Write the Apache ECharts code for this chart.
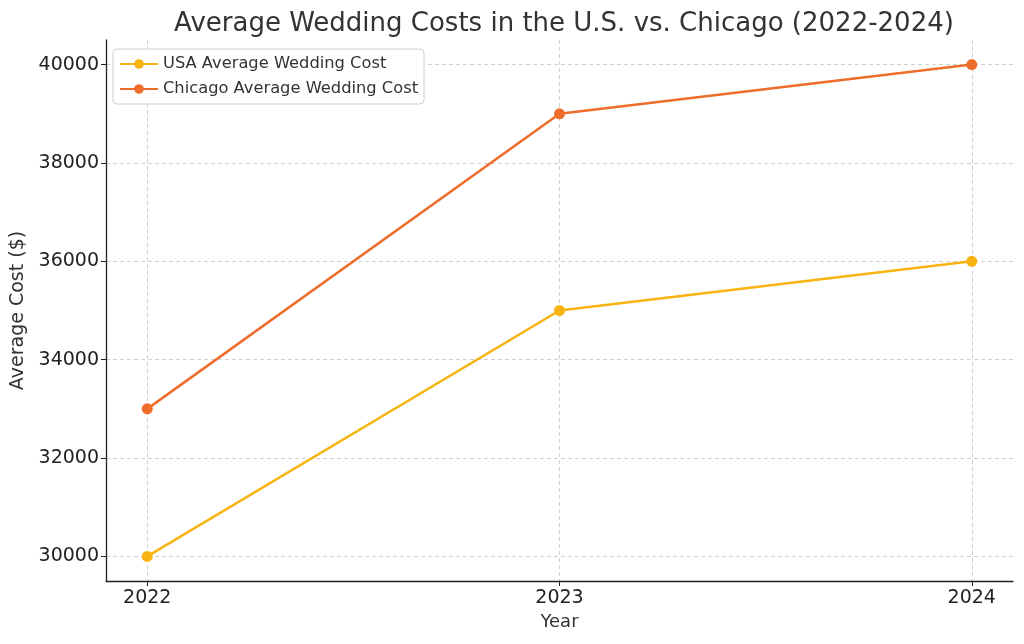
<!DOCTYPE html>
<html>
<head>
<meta charset="utf-8">
<script src="https://cdn.jsdelivr.net/npm/echarts@6/dist/echarts.min.js"></script>
<style>
  html, body { margin: 0; padding: 0; background: #fff; }
  #chart { width: 1024px; height: 644px; }
</style>
</head>
<body>
<div id="chart"></div>
<script>
// data
const years = [2022, 2023, 2024]
const usaCost = [30000, 35000, 36000]
const chicagoCost = [33000, 39000, 40000]
const seriesNames = ['USA Average Wedding Cost', 'Chicago Average Wedding Cost']

const font = 'DejaVu Sans'
const chart = echarts.init(document.getElementById('chart'))

const pairs = (vals) => years.map((y, i) => [y, vals[i]])

let option = {
  backgroundColor: '#fff',
  animation: false,
  textStyle: { fontFamily: font },
  title: {
    text: 'Average Wedding Costs in the U.S. vs. Chicago (2022-2024)',
    left: 559,
    textAlign: 'center',
    top: 6,
    textStyle: { fontFamily: font, fontSize: 26, fontWeight: 'normal', color: '#333' },
  },
  legend: {
    left: 113,
    top: 49,
    orient: 'vertical',
    itemWidth: 38,
    itemHeight: 12,
    itemGap: 9,
    padding: [7, 6, 7, 6],
    backgroundColor: '#fff',
    borderColor: '#d0d0d0',
    borderWidth: 1,
    borderRadius: 4,
    textStyle: { fontFamily: font, fontSize: 16.3, color: '#333' },
    data: seriesNames,
  },
  grid: { left: 106, right: 11, top: 40, bottom: 63, containLabel: false },
  xAxis: {
    type: 'value',
    min: 2021.9,
    max: 2024.1,
    splitNumber: 2,
    name: 'Year',
    nameLocation: 'middle',
    nameGap: 30,
    nameTextStyle: { fontFamily: font, fontSize: 18, color: '#333' },
    axisLine: { onZero: false, lineStyle: { color: '#222', width: 1.3 } },
    axisTick: { length: 5, lineStyle: { color: '#222' } },
    axisLabel: {
      fontFamily: font, fontSize: 19, color: '#222', margin: 8,
      showMinLabel: false, showMaxLabel: false,
      formatter: (v) => (Number.isInteger(v) ? String(v) : ''),
    },
    splitLine: {
      show: true, showMinLine: false, showMaxLine: false,
      lineStyle: { color: '#d0d0d0', type: [4, 3], width: 1 },
    },
  },
  yAxis: {
    type: 'value',
    min: 29500,
    max: 40500,
    splitNumber: 5,
    name: 'Average Cost ($)',
    nameLocation: 'middle',
    nameGap: 73,
    nameRotate: 90,
    nameTextStyle: { fontFamily: font, fontSize: 19, color: '#333' },
    axisLine: { show: true, onZero: false, lineStyle: { color: '#222', width: 1.3 } },
    axisTick: { show: true, length: 5, lineStyle: { color: '#222' } },
    axisLabel: {
      fontFamily: font, fontSize: 19, color: '#222', margin: 7,
      showMinLabel: false, showMaxLabel: false,
      formatter: (v) => String(v),
    },
    splitLine: {
      show: true, showMinLine: false, showMaxLine: false,
      lineStyle: { color: '#d0d0d0', type: [4, 3], width: 1 },
    },
  },
  series: [
    {
      name: seriesNames[0],
      type: 'line',
      data: pairs(usaCost),
      symbol: 'circle',
      symbolSize: 11,
      color: '#f7b411',
      lineStyle: { width: 2.5 },
    },
    {
      name: seriesNames[1],
      type: 'line',
      data: pairs(chicagoCost),
      symbol: 'circle',
      symbolSize: 11,
      color: '#ee6d2c',
      lineStyle: { width: 2.5 },
    },
  ],
}
chart.setOption(option)
</script>
</body>
</html>
